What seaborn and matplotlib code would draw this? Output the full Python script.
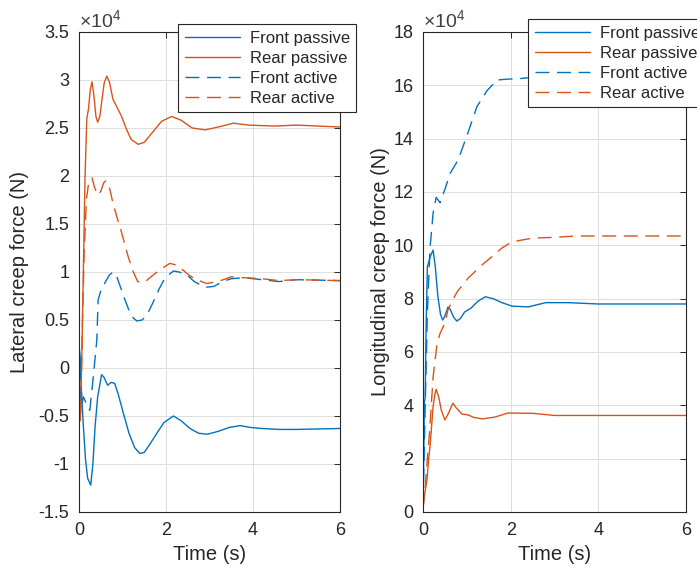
import numpy as np
import pandas as pd
import matplotlib
matplotlib.use("Agg")
import matplotlib.pyplot as plt
import seaborn as sns
from matplotlib.ticker import FuncFormatter

# force values are in units of 1e4 N (axes carry the x10^4 multiplier)
SERIES = ["Front passive", "Rear passive", "Front active", "Rear active"]

# --- lateral creep force ---
lat_fp_t = [0, 0.03, 0.06, 0.1, 0.15, 0.2, 0.27, 0.32, 0.37, 0.43, 0.52, 0.58, 0.66, 0.74, 0.82, 0.9,
            1.02, 1.15, 1.28, 1.4, 1.5, 1.65, 1.79, 1.95, 2.17, 2.35, 2.55, 2.75, 2.95, 3.2, 3.45,
            3.7, 3.95, 4.2, 4.6, 5.0, 6.0]
lat_fp_v = [0.25, 0.1, -0.26, -0.6, -0.95, -1.15, -1.22, -1.0, -0.61, -0.3, -0.07, -0.1, -0.18, -0.15,
            -0.16, -0.27, -0.47, -0.68, -0.83, -0.89, -0.88, -0.78, -0.68, -0.57, -0.5, -0.55, -0.63,
            -0.68, -0.69, -0.66, -0.62, -0.6, -0.62, -0.63, -0.64, -0.64, -0.63]
lat_rp_t = [0, 0.03, 0.07, 0.1, 0.14, 0.18, 0.22, 0.26, 0.3, 0.34, 0.39, 0.43, 0.48, 0.53, 0.58, 0.64,
            0.7, 0.78, 0.87, 0.98, 1.08, 1.2, 1.36, 1.5, 1.7, 1.9, 2.13, 2.35, 2.6, 2.9, 3.2, 3.55,
            3.9, 4.5, 5.0, 5.5, 6.0]
lat_rp_v = [-0.3, -0.55, 0.2, 1.0, 2.0, 2.6, 2.7, 2.9, 2.98, 2.85, 2.62, 2.56, 2.62, 2.8, 2.97, 3.04,
            2.98, 2.8, 2.72, 2.62, 2.5, 2.38, 2.33, 2.35, 2.46, 2.57, 2.62, 2.58, 2.5, 2.48, 2.51,
            2.55, 2.53, 2.52, 2.53, 2.52, 2.51]
lat_fa_t = [0, 0.03, 0.06, 0.1, 0.15, 0.2, 0.25, 0.33, 0.41, 0.44, 0.5, 0.6, 0.7, 0.79, 0.87, 0.94,
            1.05, 1.15, 1.25, 1.33, 1.45, 1.56, 1.7, 1.85, 1.98, 2.17, 2.3, 2.48, 2.65, 2.9, 3.1,
            3.3, 3.5, 3.8, 4.2, 4.6, 5.0, 6.0]
lat_fa_v = [0.25, -0.1, -0.4, -0.3, -0.35, -0.42, -0.44, -0.09, 0.29, 0.71, 0.8, 0.89, 0.97, 1.0,
            0.95, 0.86, 0.72, 0.6, 0.52, 0.49, 0.5, 0.55, 0.68, 0.83, 0.94, 1.01, 1.0, 0.97, 0.9,
            0.84, 0.85, 0.9, 0.93, 0.94, 0.92, 0.9, 0.92, 0.91]
lat_ra_t = [0, 0.04, 0.08, 0.12, 0.17, 0.22, 0.3, 0.36, 0.43, 0.5, 0.57, 0.62, 0.7, 0.78, 0.88, 0.98,
            1.13, 1.25, 1.35, 1.5, 1.63, 1.85, 2.09, 2.25, 2.39, 2.55, 2.7, 2.94, 3.2, 3.5, 3.8,
            4.2, 4.6, 5.0, 6.0]
lat_ra_v = [-0.3, -0.5, 0.5, 1.2, 1.75, 1.92, 1.98, 1.88, 1.8, 1.84, 1.93, 1.95, 1.88, 1.72, 1.56,
            1.41, 1.16, 1.0, 0.9, 0.89, 0.94, 1.02, 1.09, 1.07, 1.02, 0.96, 0.92, 0.88, 0.9, 0.95,
            0.94, 0.93, 0.91, 0.92, 0.91]

# --- longitudinal creep force ---
lon_fp_t = [0, 0.02, 0.03, 0.05, 0.07, 0.1, 0.17, 0.23, 0.28, 0.34, 0.4, 0.45, 0.5, 0.57, 0.62, 0.7,
            0.77, 0.85, 0.95, 1.1, 1.25, 1.42, 1.6, 1.8, 2.03, 2.4, 2.8, 3.3, 4.0, 5.0, 6.0]
lon_fp_v = [0.2, 2.5, 4.1, 4.3, 6.9, 9.2, 9.6, 9.82, 9.2, 8.07, 7.4, 7.2, 7.35, 7.69, 7.6, 7.3, 7.16,
            7.25, 7.5, 7.65, 7.9, 8.07, 8.0, 7.85, 7.72, 7.69, 7.85, 7.85, 7.8, 7.8, 7.8]
lon_rp_t = [0, 0.05, 0.09, 0.13, 0.16, 0.2, 0.23, 0.27, 0.3, 0.36, 0.42, 0.5, 0.58, 0.68, 0.76, 0.89,
            1.03, 1.15, 1.35, 1.64, 1.94, 2.5, 3.0, 4.0, 6.0]
lon_rp_v = [0.2, 0.8, 1.2, 2.0, 2.45, 3.3, 3.95, 4.4, 4.6, 4.3, 3.8, 3.45, 3.7, 4.08, 3.9, 3.67, 3.64,
            3.55, 3.49, 3.56, 3.71, 3.7, 3.62, 3.62, 3.62]
lon_fa_t = [0, 0.05, 0.1, 0.16, 0.23, 0.3, 0.39, 0.5, 0.62, 0.8, 1.0, 1.23, 1.46, 1.69, 1.92, 2.2,
            2.5, 3.0, 4.0, 6.0]
lon_fa_v = [0.3, 4.0, 7.5, 9.9, 11.2, 11.8, 11.6, 12.1, 12.7, 13.2, 14.1, 15.2, 15.8, 16.2, 16.23,
            16.25, 16.3, 16.35, 16.4, 16.4]
lon_ra_t = [0, 0.05, 0.1, 0.15, 0.23, 0.32, 0.39, 0.5, 0.57, 0.66, 0.78, 1.03, 1.35, 1.57, 1.8, 2.03,
            2.5, 3.0, 3.5, 6.0]
lon_ra_v = [0.1, 0.94, 2.0, 3.0, 5.06, 6.3, 6.7, 7.08, 7.58, 7.9, 8.26, 8.77, 9.27, 9.57, 9.9, 10.13,
            10.27, 10.3, 10.35, 10.35]

lat_yticks = np.arange(-1.5, 3.51, 0.5)
lon_yticks = np.arange(0, 18.1, 2)
xticks = [0, 2, 4, 6]

BLUE = "#0072BD"
ORANGE = "#D95319"
TXT = "#262626"
palette = {"Front passive": BLUE, "Rear passive": ORANGE, "Front active": BLUE, "Rear active": ORANGE}
dashes = {"Front passive": "", "Rear passive": "", "Front active": (10, 5.5), "Rear active": (10, 5.5)}


def long_df(pairs):
    frames = []
    for name, (t, v) in zip(SERIES, pairs):
        frames.append(pd.DataFrame({"t": t, "v": v, "series": name}))
    return pd.concat(frames, ignore_index=True)


lat_df = long_df([(lat_fp_t, lat_fp_v), (lat_rp_t, lat_rp_v), (lat_fa_t, lat_fa_v), (lat_ra_t, lat_ra_v)])
lon_df = long_df([(lon_fp_t, lon_fp_v), (lon_rp_t, lon_rp_v), (lon_fa_t, lon_fa_v), (lon_ra_t, lon_ra_v)])

sns.set_theme(style="white")
plt.rcParams["font.family"] = ["Liberation Sans", "DejaVu Sans"]
plt.rcParams["mathtext.fontset"] = "custom"
plt.rcParams["mathtext.rm"] = "Liberation Sans"
plt.rcParams["mathtext.it"] = "Liberation Sans"
plt.rcParams["axes.unicode_minus"] = False

fig = plt.figure(figsize=(6.97, 5.69), dpi=100)
ax1 = fig.add_axes([0.1133, 0.1002, 0.3745, 0.8436])
ax2 = fig.add_axes([0.6069, 0.1002, 0.3773, 0.8436])

panels = [
    (ax1, lat_df, (-1.5, 3.5), lat_yticks, "Lateral creep force (N)", -0.19, (0.2554, 0.9578)),
    (ax2, lon_df, (0, 18), lon_yticks, "Longitudinal creep force (N)", -0.125, (0.7575, 0.9666)),
]

for ax, df, ylim, yt, ylab, labx, legpos in panels:
    sns.lineplot(data=df, x="t", y="v", hue="series", style="series", hue_order=SERIES,
                 style_order=SERIES, palette=palette, dashes=dashes, estimator=None,
                 sort=False, linewidth=1.0, ax=ax)
    ax.set_xlim(0, 6)
    ax.set_ylim(*ylim)
    ax.set_xticks(xticks)
    ax.set_yticks(yt)
    ax.yaxis.set_major_formatter(FuncFormatter(lambda v, p: f"{v:g}"))
    ax.grid(True, color="#dedede", linewidth=0.7)
    ax.tick_params(direction="in", length=4, width=0.7, top=True, right=True,
                   labelsize=13, colors=TXT, pad=7)
    for s in ax.spines.values():
        s.set_color(TXT)
        s.set_linewidth(0.8)
    ax.set_xlabel("Time (s)", fontsize=14.5, color=TXT)
    ax.set_ylabel(ylab, fontsize=14.5, color=TXT)
    ax.xaxis.set_label_coords(0.5, -0.068)
    ax.yaxis.set_label_coords(labx, 0.5)
    ax.text(0.0, 1.002, r"$\times10^{4}$", transform=ax.transAxes, fontsize=14,
            color="#404040", ha="left", va="bottom")
    handles, labels = ax.get_legend_handles_labels()
    leg = ax.legend(handles, labels, loc="upper left", bbox_to_anchor=legpos,
                    bbox_transform=fig.transFigure, fontsize=12, frameon=True,
                    fancybox=False, edgecolor=TXT, framealpha=1, borderpad=0.4,
                    labelspacing=0.3, handlelength=3.3, handletextpad=0.6, borderaxespad=0)
    leg.get_frame().set_linewidth(0.8)
    for txt in leg.get_texts():
        txt.set_color(TXT)

fig.savefig("out.png", dpi=100)
